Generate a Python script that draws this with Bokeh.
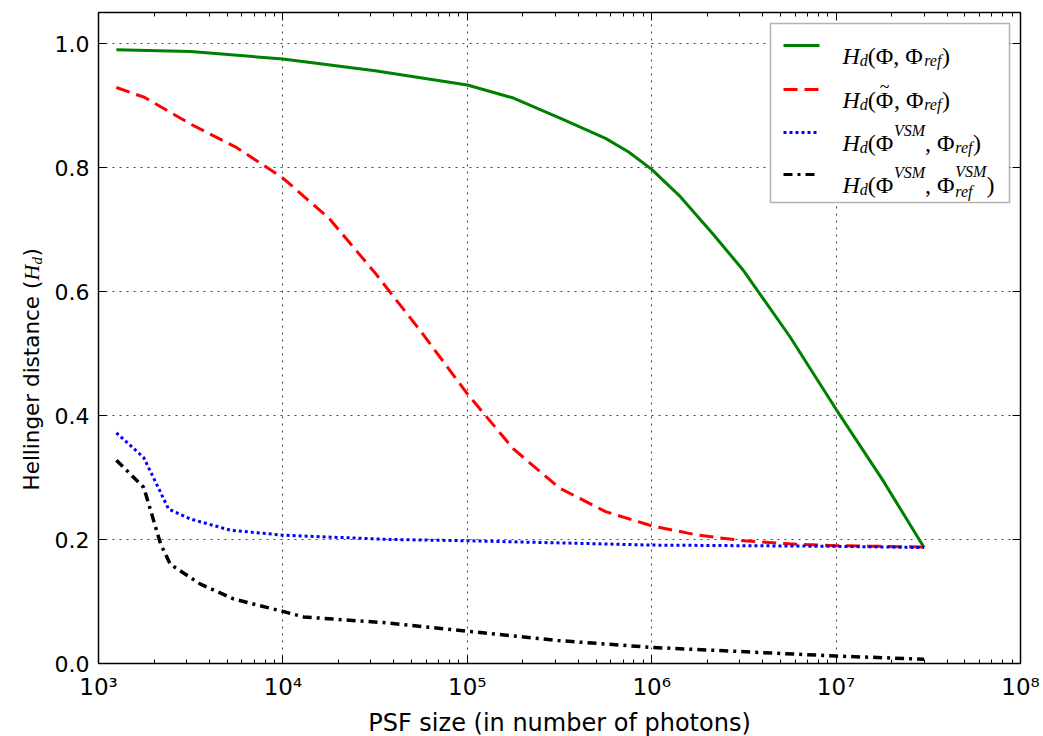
import math
from bokeh.plotting import figure
from bokeh.layouts import row
from bokeh.models import (Range1d, LogTicker, FixedTicker, LogAxis, LinearAxis,
                          CustomJSTickFormatter, PrintfTickFormatter, Label,
                          BoxAnnotation, Arrow)
from bokeh.embed import file_html
from bokeh.resources import INLINE

# ---------------- data ----------------
x_green = [1250, 3160, 1e4, 3.16e4, 1e5, 1.78e5, 3.16e5, 5.62e5, 7.5e5, 1e6, 1.43e6, 2.16e6, 3.16e6, 5.62e6, 1e7, 1.78e7, 3e7]
y_green = [0.990, 0.987, 0.975, 0.956, 0.933, 0.912, 0.880, 0.847, 0.825, 0.797, 0.753, 0.692, 0.633, 0.527, 0.410, 0.297, 0.187]

x_red = [1250, 1780, 3160, 5620, 1e4, 1.78e4, 3.16e4, 5.62e4, 1e5, 1.78e5, 3.16e5, 5.62e5, 1e6, 1.78e6, 3.16e6, 5.62e6, 1e7, 3e7]
y_red = [0.929, 0.913, 0.870, 0.832, 0.783, 0.718, 0.630, 0.535, 0.435, 0.346, 0.283, 0.245, 0.222, 0.207, 0.198, 0.193, 0.190, 0.188]

x_blue = [1250, 1760, 2400, 3160, 5190, 1e4, 3.8e4, 1e5, 1e6, 1e7, 3e7]
y_blue = [0.372, 0.332, 0.249, 0.233, 0.215, 0.207, 0.200, 0.198, 0.191, 0.189, 0.187]

x_black = [1250, 1760, 2170, 2450, 3570, 5410, 1e4, 1.3e4, 3.5e4, 1e5, 3.1e5, 1e6, 1e7, 3e7]
y_black = [0.328, 0.284, 0.193, 0.160, 0.128, 0.104, 0.084, 0.075, 0.066, 0.052, 0.037, 0.026, 0.012, 0.007]

y_ticks = [0.0, 0.2, 0.4, 0.6, 0.8, 1.0]
x_label = "PSF size (in number of photons)"
y_label_text = "Hellinger distance ("

LABEL_W = 50   # narrow strip on the left that carries the rotated y label

# ---------------- main figure ----------------
p = figure(x_axis_type="log", frame_width=922, frame_height=651,
           x_range=Range1d(1e3, 1e8), y_range=Range1d(0, 1.05),
           output_backend="svg", toolbar_location=None,
           min_border_left=98 - LABEL_W, min_border_right=23, min_border_top=12, min_border_bottom=73,
           background_fill_color="white", border_fill_color="white")
p.outline_line_color = "black"
p.outline_line_width = 1.5

xticker = LogTicker(num_minor_ticks=10, desired_num_ticks=6)
sup = CustomJSTickFormatter(code="""
const s = {'0':'\u2070','1':'\u00b9','2':'\u00b2','3':'\u00b3','4':'\u2074','5':'\u2075','6':'\u2076','7':'\u2077','8':'\u2078','9':'\u2079','-':'\u207b'};
const e = String(Math.round(Math.log10(tick)));
return '10' + e.split('').map(c => s[c]).join('');
""")
blank = CustomJSTickFormatter(code="return '';")

xa = p.xaxis[0]
xa.ticker = xticker
xa.formatter = sup
xa.major_label_text_font = "DejaVu Sans"
xa.major_label_text_font_size = "23px"
xa.major_label_text_color = "black"
xa.major_label_standoff = 10
xa.axis_label = x_label
xa.axis_label_text_font = "DejaVu Sans"
xa.axis_label_text_font_size = "24px"
xa.axis_label_text_font_style = "normal"
xa.axis_label_text_color = "black"
xa.axis_label_standoff = 6

ya = p.yaxis[0]
ya.ticker = FixedTicker(ticks=y_ticks)
ya.formatter = PrintfTickFormatter(format="%.1f")
ya.major_label_text_font = "DejaVu Sans"
ya.major_label_text_font_size = "22px"
ya.major_label_text_color = "black"
ya.major_label_standoff = 9
ya.minor_tick_line_color = None

for ax in (xa, ya):
    ax.major_tick_in = 8
    ax.major_tick_out = 0
    ax.minor_tick_in = 4
    ax.minor_tick_out = 0
    ax.axis_line_color = "black"
    ax.major_tick_line_color = "black"

top = LogAxis(ticker=xticker, formatter=blank, major_label_text_font_size="2px",
              major_label_standoff=0,
              major_tick_in=8, major_tick_out=0, minor_tick_in=4, minor_tick_out=0)
right = LinearAxis(ticker=FixedTicker(ticks=y_ticks), formatter=blank,
                   major_label_text_font_size="2px",
                   major_label_standoff=0, major_tick_in=8, major_tick_out=0,
                   minor_tick_line_color=None)
p.add_layout(top, "above")
p.add_layout(right, "right")

for g in (p.xgrid[0], p.ygrid[0]):
    g.grid_line_color = "#444444"
    g.grid_line_dash = "2 5"
    g.grid_line_width = 1

# ---------------- lines ----------------
p.line(x_green, y_green, line_color="#008000", line_width=3)
p.line(x_red, y_red, line_color="#ff0000", line_width=3, line_dash="14 7")
p.line(x_blue, y_blue, line_color="#0000ff", line_width=3, line_dash="3 3")
p.line(x_black, y_black, line_color="#000000", line_width=3.5, line_dash="9 5 3 5")

# ---------------- legend (manual, screen units relative to frame) ----------------
serif = "Liberation Serif"
FB = 651  # frame height, screen y measured up from frame bottom
def fy(abs_y):
    return FB - (abs_y - 12)

p.add_layout(BoxAnnotation(left=672, right=911, top=fy(23), bottom=fy(202),
                           left_units="screen", right_units="screen",
                           top_units="screen", bottom_units="screen",
                           fill_color="white", fill_alpha=1.0,
                           line_color="black", line_width=1.5))

samples = [("#008000", None), ("#ff0000", "14 7"), ("#0000ff", "3 3"), ("#000000", "9 5 3 5")]
row_y = [fy(45), fy(89), fy(132), fy(174)]
for (col, dash), yy in zip(samples, row_y):
    kw = dict(line_dash=dash) if dash else {}
    p.add_layout(Arrow(end=None, x_start=685, y_start=yy, x_end=721, y_end=yy,
                       start_units="screen", end_units="screen",
                       line_color=col, line_width=3, **kw))

W = {"H": 17.3, "d": 8.0, "(": 8.0, "\u03a6": 18.2, "(\u03a6, \u03a6": 56.4,
     "ref": 17.8, "(\u03a6": 26.2, "VSM": 31.1, ", \u03a6": 30.2, ")": 8.0}

def put(fig, x, y, text, italic, size, angle=0.0, font=serif, units="screen"):
    fig.add_layout(Label(x=x, y=y, x_units=units, y_units=units, text=text,
                         text_font=font, text_font_style="italic" if italic else "normal",
                         text_font_size=size, text_color="black", angle=angle,
                         text_align="left", text_baseline="alphabetic"))

rows = [
    [("H", "m", True), ("d", "sub", True), ("(\u03a6, \u03a6", "m", False), ("ref", "sub", True), (")", "m", False)],
    [("H", "m", True), ("d", "sub", True), ("(", "m", False), ("\u03a6", "tilde", False), (", \u03a6", "m", False), ("ref", "sub", True), (")", "m", False)],
    [("H", "m", True), ("d", "sub", True), ("(\u03a6", "m", False), ("VSM", "sup", True), (", \u03a6", "m", False), ("ref", "sub", True), (")", "m", False)],
    [("H", "m", True), ("d", "sub", True), ("(\u03a6", "m", False), ("VSM", "sup", True), (", \u03a6", "m", False), ("VSM|ref", "both", True), (")", "m", False)],
]
for yy, items in zip(row_y, rows):
    base = yy - 10
    x = 744
    for text, kind, it in items:
        if kind == "m":
            put(p, x, base, text, it, "24px")
            x += W[text]
        elif kind == "tilde":
            put(p, x, base, text, it, "24px")
            put(p, x + 4, base + 13, "~", False, "18px")
            x += W[text]
        elif kind == "sub":
            put(p, x, base - 5, text, it, "16px")
            x += W[text]
        elif kind == "sup":
            put(p, x, base + 12, text, it, "16px")
            x += W[text]
        else:
            a, b = text.split("|")
            put(p, x, base + 13, a, it, "16px")
            put(p, x, base - 7, b, it, "16px")
            x += max(W[a], W[b])

# ---------------- y axis label strip (rotated text) ----------------
side = figure(width=LABEL_W, height=736, x_range=Range1d(0, 1), y_range=Range1d(0, 1),
              output_backend="svg", toolbar_location=None, min_border=0,
              x_axis_location=None, y_axis_location=None,
              background_fill_color="white", border_fill_color="white")
side.outline_line_color = None
side.grid.visible = False

bx, by = 31, 490   # canvas px, y downward
put(side, bx, by, y_label_text, False, "21.5px", angle=math.pi / 2, font="DejaVu Sans", units="canvas")
put(side, bx, by - 210, "H", True, "22px", angle=math.pi / 2, units="canvas")
put(side, bx + 5, by - 226, "d", True, "15px", angle=math.pi / 2, units="canvas")
put(side, bx, by - 234, ")", False, "21.5px", angle=math.pi / 2, font="DejaVu Sans", units="canvas")

layout = row(side, p, spacing=0)
open("out.html", "w").write(file_html(layout, INLINE))
